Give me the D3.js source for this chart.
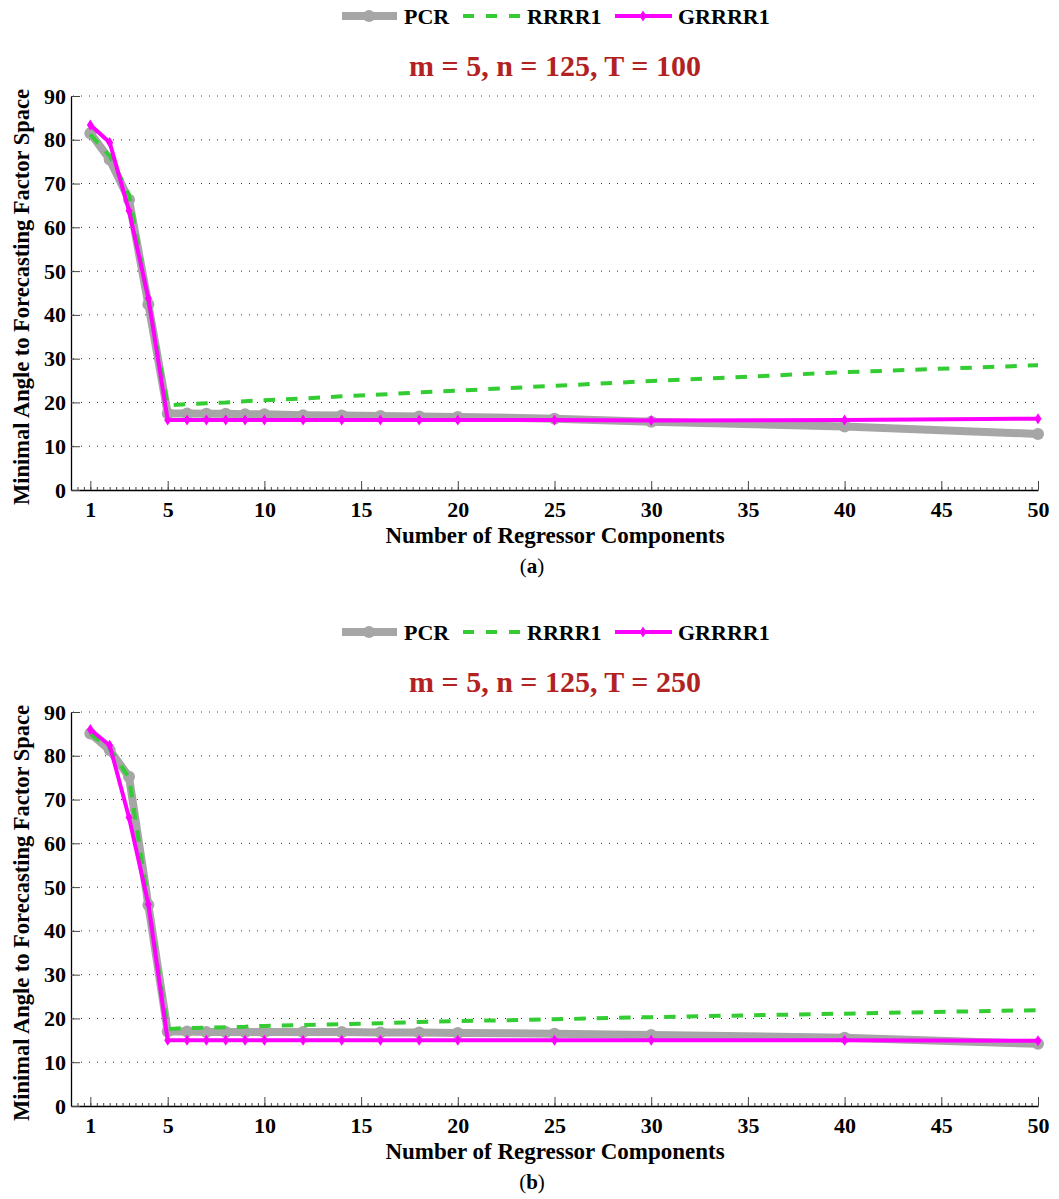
<!DOCTYPE html>
<html>
<head>
<meta charset="utf-8">
<script src="https://cdn.jsdelivr.net/npm/d3@7"></script>
<style>
	body { margin: 0; background: #fff; }
	text { font-family: "Liberation Serif", "Times New Roman", serif; font-weight: bold; }
</style>
</head>
<body>
<div id="chart"></div>
<script>
const dest		= '#chart';

// number of regressor components
const comps		= [1, 2, 3, 4, 5, 6, 7, 8, 9, 10, 12, 14, 16, 18, 20, 25, 30, 40, 50];
const xTicks	= [1, 5, 10, 15, 20, 25, 30, 35, 40, 45, 50];
const yTicks	= [0, 10, 20, 30, 40, 50, 60, 70, 80, 90];
const names		= ['PCR', 'RRRR1', 'GRRRR1'];

// panel (a) T = 100
const pcrA		= [81.5, 75.5, 66.3, 42.4, 17.5, 17.5, 17.4, 17.4, 17.3, 17.3, 17.1, 17.0, 16.9, 16.8, 16.7, 16.3, 15.6, 14.5, 12.8];
const rrrrA		= [81.2, 76.3, 67.4, 43.0, 19.3, 19.6, 19.8, 20.0, 20.3, 20.5, 20.9, 21.4, 21.8, 22.3, 22.7, 23.8, 24.9, 26.9, 28.5];
const grrrA		= [83.4, 79.4, 63.8, 43.8, 16.0, 16.0, 16.0, 16.0, 16.0, 16.0, 16.0, 16.0, 16.0, 16.0, 16.0, 16.0, 15.9, 16.0, 16.3];

// panel (b) T = 250
const pcrB		= [85.1, 81.3, 75.2, 45.9, 17.0, 17.0, 16.9, 16.9, 16.9, 16.9, 16.9, 16.9, 16.8, 16.8, 16.7, 16.5, 16.2, 15.6, 14.2];
const rrrrB		= [85.0, 81.6, 75.0, 46.2, 17.6, 17.8, 17.9, 18.0, 18.1, 18.3, 18.5, 18.7, 18.9, 19.2, 19.4, 19.8, 20.3, 21.1, 21.9];
const grrrB		= [86.0, 82.4, 65.9, 46.1, 15.0, 15.0, 15.0, 15.0, 15.0, 15.0, 15.0, 15.0, 15.0, 15.0, 15.0, 15.0, 15.0, 15.0, 14.9];

const panels	= [
	{ title: 'm = 5, n = 125, T = 100', tag: 'a', pcr: pcrA, rrrr: rrrrA, grrr: grrrA },
	{ title: 'm = 5, n = 125, T = 250', tag: 'b', pcr: pcrB, rrrr: rrrrB, grrr: grrrB },
];

const gray		= '#a6a6a6';
const green		= '#33cc33';
const magenta	= '#ff00ff';

let svg = d3.select(dest).append('svg')
	.attr('width', 1059)
	.attr('height', 1199);

let x		= d3.scaleLinear().domain([0, 50]).range([71, 1038]);
let y		= d3.scaleLinear().domain([0, 90]).range([490, 96]);

let line	= (vals) => d3.line().x((d, i) => x(comps[i])).y((d) => y(d))(vals);
let diamond	= 'M0,-5.5L3.5,0L0,5.5L-3.5,0Z';

panels.forEach((p, k) => {
	let g = svg.append('g').attr('transform', 'translate(0,' + (k * 616) + ')');

	// legend
	let leg = g.append('g').attr('transform', 'translate(0,16)');
	leg.append('line').attr('x1', 342).attr('x2', 397).attr('stroke', gray).attr('stroke-width', 8);
	leg.append('circle').attr('cx', 369).attr('r', 6).attr('fill', gray);
	leg.append('line').attr('x1', 463).attr('x2', 520).attr('stroke', green).attr('stroke-width', 4).attr('stroke-dasharray', '11,12');
	leg.append('line').attr('x1', 615).attr('x2', 672).attr('stroke', magenta).attr('stroke-width', 4);
	leg.append('path').attr('d', diamond).attr('transform', 'translate(643,0)').attr('fill', magenta);
	leg.selectAll('.lab')
		.data(names)
		.enter().append('text')
			.attr('x', (d, i) => [404, 527, 678][i])
			.attr('y', 7.5)
			.attr('font-size', 22)
			.text((d) => d);

	g.append('text')
		.attr('x', 555).attr('y', 76)
		.attr('text-anchor', 'middle')
		.attr('font-size', 30)
		.attr('fill', '#b22222')
		.text(p.title);

	// grid
	g.append('g')
		.selectAll('line')
		.data(yTicks.slice(1))
			.enter().append('line')
			.attr('x1', x(0) + 2).attr('x2', 1040)
			.attr('y1', (d) => y(d)).attr('y2', (d) => y(d))
			.attr('stroke', '#333').attr('stroke-width', 1)
			.attr('stroke-dasharray', '1,7');

	// axes
	g.append('g').attr('transform', 'translate(0,' + y(0) + ')')
		.call(d3.axisBottom(x).tickValues(xTicks).tickSize(-9).tickSizeOuter(0).tickPadding(11));
	g.append('g').attr('transform', 'translate(0,' + y(0) + ')')
		.call(d3.axisBottom(x).tickValues(d3.range(1, 150).map((i) => i / 3)).tickSize(-3).tickFormat(''))
		.call((a) => a.select('.domain').remove());
	g.append('g').attr('transform', 'translate(' + x(0) + ',0)')
		.call(d3.axisLeft(y).tickValues(yTicks).tickSize(-9).tickSizeOuter(0).tickPadding(5));

	g.selectAll('.domain').attr('stroke', '#000').attr('stroke-width', 1.3);
	g.selectAll('.tick line').attr('stroke', '#444');
	g.selectAll('.tick text').attr('font-size', 22).attr('fill', '#000')
		.style('font-family', '"Liberation Serif", serif').style('font-weight', 'bold');

	g.append('text')
		.attr('transform', 'translate(29,297) rotate(-90)')
		.attr('text-anchor', 'middle')
		.attr('font-size', 22.5)
		.text('Minimal Angle to Forecasting Factor Space');
	g.append('text')
		.attr('x', 555).attr('y', 543)
		.attr('text-anchor', 'middle')
		.attr('font-size', 23)
		.text('Number of Regressor Components');

	let cap = g.append('text')
		.attr('x', 532).attr('y', 573)
		.attr('text-anchor', 'middle')
		.attr('font-size', 21)
		.style('font-weight', 'normal');
	cap.append('tspan').style('font-weight', 'normal').text('(');
	cap.append('tspan').style('font-weight', 'bold').text(p.tag);
	cap.append('tspan').style('font-weight', 'normal').text(')');

	// series
	let s = g.append('g');
	s.append('path').attr('d', line(p.pcr)).attr('fill', 'none').attr('stroke', gray).attr('stroke-width', 8).attr('stroke-linejoin', 'round');
	s.selectAll('.pcr')
		.data(p.pcr)
		.enter().append('circle')
			.attr('cx', (d, i) => x(comps[i]))
			.attr('cy', (d) => y(d))
			.attr('r', 6)
			.attr('fill', gray);
	s.append('path').attr('d', line(p.rrrr)).attr('fill', 'none').attr('stroke', green).attr('stroke-width', 4).attr('stroke-dasharray', '11.5,11');
	s.append('path').attr('d', line(p.grrr)).attr('fill', 'none').attr('stroke', magenta).attr('stroke-width', 4);
	s.selectAll('.grrr')
		.data(p.grrr)
		.enter().append('path')
			.attr('d', diamond)
			.attr('transform', (d, i) => 'translate(' + x(comps[i]) + ',' + y(d) + ')')
			.attr('fill', magenta);
});
</script>
</body>
</html>
